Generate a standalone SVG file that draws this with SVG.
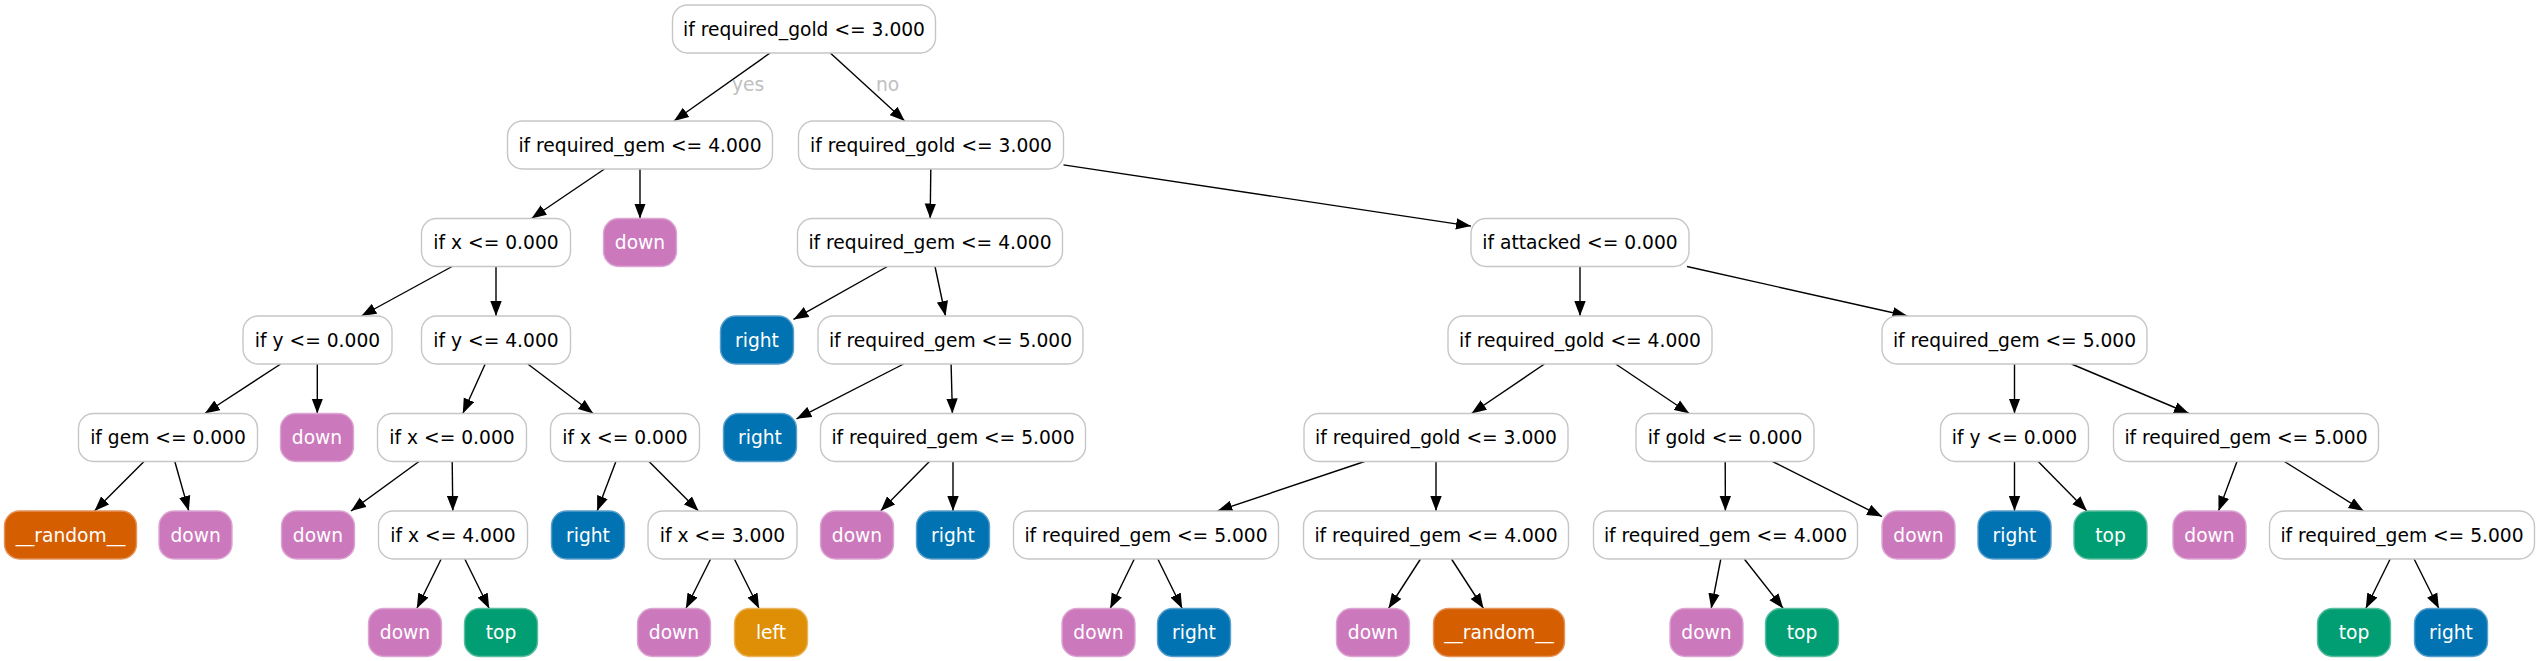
<svg xmlns="http://www.w3.org/2000/svg" width="2541" height="661" viewBox="0 0 2541 661">
<style>
.n rect{fill:#ffffff;stroke:#c6c6c6;stroke-width:1.4}
.n text{fill:#000000}
text{font-family:"DejaVu Sans","Liberation Sans",sans-serif;font-size:18.67px;text-anchor:middle}
.l text{fill:#ffffff}
.down rect{fill:#cc78bc;stroke:#dca6d2;stroke-width:1.4}
.right rect{fill:#0173b2;stroke:#5a9fcb;stroke-width:1.4}
.top rect{fill:#029e73;stroke:#5bbd9f;stroke-width:1.4}
.left rect{fill:#de8f05;stroke:#eab45a;stroke-width:1.4}
.rand rect{fill:#d55e00;stroke:#e4935a;stroke-width:1.4}
.e line{stroke:#000000;stroke-width:1.4;marker-end:url(#arr)}
.lab{fill:#c0c0c0}
</style>
<defs>
<marker id="arr" markerUnits="userSpaceOnUse" markerWidth="16" markerHeight="12" refX="15" refY="6" orient="auto">
<path d="M0,0.3 L15,6 L0,11.7 z" fill="#000000"/>
</marker>
</defs>
<rect x="0" y="0" width="2541" height="661" fill="#ffffff"/>
<g id="edges" class="e">
<line x1="770.1" y1="53" x2="673.9" y2="121"/>
<line x1="830.3" y1="53" x2="904.7" y2="121"/>
<line x1="604.5" y1="169" x2="531.5" y2="218.5"/>
<line x1="640" y1="169" x2="640" y2="218.5"/>
<line x1="930.8" y1="169" x2="930.2" y2="218.5"/>
<line x1="1063.5" y1="164.9" x2="1471" y2="226.1"/>
<line x1="452.1" y1="266.5" x2="361.4" y2="316"/>
<line x1="496" y1="266.5" x2="496" y2="316"/>
<line x1="887.4" y1="266.5" x2="793.5" y2="319.4"/>
<line x1="935" y1="266.5" x2="945.5" y2="316"/>
<line x1="1580" y1="266.5" x2="1580" y2="316"/>
<line x1="1687" y1="266.5" x2="1907.5" y2="316"/>
<line x1="280.7" y1="364" x2="204.8" y2="413.5"/>
<line x1="317.3" y1="364" x2="317.3" y2="413.5"/>
<line x1="485.2" y1="364" x2="462.8" y2="413.5"/>
<line x1="527.8" y1="364" x2="593.2" y2="413.5"/>
<line x1="903.6" y1="364" x2="796.5" y2="418.8"/>
<line x1="951.1" y1="364" x2="952.4" y2="413.5"/>
<line x1="1544.5" y1="364" x2="1471.5" y2="413.5"/>
<line x1="1615.7" y1="364" x2="1689.3" y2="413.5"/>
<line x1="2014.5" y1="364" x2="2014.5" y2="413.5"/>
<line x1="2071.5" y1="364" x2="2189" y2="413.5"/>
<line x1="144" y1="461.5" x2="94.5" y2="511"/>
<line x1="174.8" y1="461.5" x2="188.8" y2="511"/>
<line x1="419" y1="461.5" x2="351" y2="511"/>
<line x1="452.2" y1="461.5" x2="452.8" y2="511"/>
<line x1="615.9" y1="461.5" x2="597.1" y2="511"/>
<line x1="649" y1="461.5" x2="698.5" y2="511"/>
<line x1="929.4" y1="461.5" x2="880.6" y2="511"/>
<line x1="953" y1="461.5" x2="953" y2="511"/>
<line x1="1364.6" y1="461.5" x2="1217.4" y2="511"/>
<line x1="1436" y1="461.5" x2="1436" y2="511"/>
<line x1="1725.2" y1="461.5" x2="1725.4" y2="511"/>
<line x1="1772.6" y1="461.5" x2="1882" y2="516.6"/>
<line x1="2014.5" y1="461.5" x2="2014.5" y2="511"/>
<line x1="2038.2" y1="461.5" x2="2086.9" y2="511"/>
<line x1="2237" y1="461.5" x2="2218.5" y2="511"/>
<line x1="2284.4" y1="461.5" x2="2363.6" y2="511"/>
<line x1="441.2" y1="559" x2="416.8" y2="608.5"/>
<line x1="464.8" y1="559" x2="489.2" y2="608.5"/>
<line x1="710.6" y1="559" x2="685.9" y2="608.5"/>
<line x1="734.4" y1="559" x2="759.1" y2="608.5"/>
<line x1="1134.3" y1="559" x2="1110.2" y2="608.5"/>
<line x1="1157.8" y1="559" x2="1182.2" y2="608.5"/>
<line x1="1420.5" y1="559" x2="1388.5" y2="608.5"/>
<line x1="1451.5" y1="559" x2="1483.5" y2="608.5"/>
<line x1="1720.8" y1="559" x2="1711.2" y2="608.5"/>
<line x1="1744.3" y1="559" x2="1783.2" y2="608.5"/>
<line x1="2390.2" y1="559" x2="2365.8" y2="608.5"/>
<line x1="2414.1" y1="559" x2="2438.9" y2="608.5"/>
<text class="lab" x="748" y="91">yes</text>
<text class="lab" x="887.5" y="91">no</text>
</g>
<g id="n0" class="n"><rect x="672.5" y="5" width="263" height="48" rx="15"/><text x="804" y="35.5">if required_gold &lt;= 3.000</text></g>
<g id="n1" class="n"><rect x="507.5" y="121" width="265" height="48" rx="15"/><text x="640" y="151.5">if required_gem &lt;= 4.000</text></g>
<g id="n2" class="n"><rect x="798.5" y="121" width="265" height="48" rx="15"/><text x="931" y="151.5">if required_gold &lt;= 3.000</text></g>
<g id="n3" class="n"><rect x="421.5" y="218.5" width="149" height="48" rx="15"/><text x="496" y="249">if x &lt;= 0.000</text></g>
<g id="n4" class="l down"><rect x="603.5" y="218.5" width="73" height="48" rx="15"/><text x="640" y="249">down</text></g>
<g id="n5" class="n"><rect x="797.5" y="218.5" width="265" height="48" rx="15"/><text x="930" y="249">if required_gem &lt;= 4.000</text></g>
<g id="n6" class="n"><rect x="1471" y="218.5" width="218" height="48" rx="15"/><text x="1580" y="249">if attacked &lt;= 0.000</text></g>
<g id="n7" class="n"><rect x="243" y="316" width="149" height="48" rx="15"/><text x="317.5" y="346.5">if y &lt;= 0.000</text></g>
<g id="n8" class="n"><rect x="421.5" y="316" width="149" height="48" rx="15"/><text x="496" y="346.5">if y &lt;= 4.000</text></g>
<g id="n9" class="l right"><rect x="720.5" y="316" width="73" height="48" rx="15"/><text x="757" y="346.5">right</text></g>
<g id="n10" class="n"><rect x="818" y="316" width="265" height="48" rx="15"/><text x="950.5" y="346.5">if required_gem &lt;= 5.000</text></g>
<g id="n11" class="n"><rect x="1448" y="316" width="264" height="48" rx="15"/><text x="1580" y="346.5">if required_gold &lt;= 4.000</text></g>
<g id="n12" class="n"><rect x="1882" y="316" width="265" height="48" rx="15"/><text x="2014.5" y="346.5">if required_gem &lt;= 5.000</text></g>
<g id="n13" class="n"><rect x="78.5" y="413.5" width="179" height="48" rx="15"/><text x="168" y="444">if gem &lt;= 0.000</text></g>
<g id="n14" class="l down"><rect x="280.5" y="413.5" width="73" height="48" rx="15"/><text x="317" y="444">down</text></g>
<g id="n15" class="n"><rect x="377.5" y="413.5" width="149" height="48" rx="15"/><text x="452" y="444">if x &lt;= 0.000</text></g>
<g id="n16" class="n"><rect x="550.5" y="413.5" width="149" height="48" rx="15"/><text x="625" y="444">if x &lt;= 0.000</text></g>
<g id="n17" class="l right"><rect x="723.5" y="413.5" width="73" height="48" rx="15"/><text x="760" y="444">right</text></g>
<g id="n18" class="n"><rect x="820.5" y="413.5" width="265" height="48" rx="15"/><text x="953" y="444">if required_gem &lt;= 5.000</text></g>
<g id="n19" class="n"><rect x="1304" y="413.5" width="264" height="48" rx="15"/><text x="1436" y="444">if required_gold &lt;= 3.000</text></g>
<g id="n20" class="n"><rect x="1636" y="413.5" width="178" height="48" rx="15"/><text x="1725" y="444">if gold &lt;= 0.000</text></g>
<g id="n21" class="n"><rect x="1940.5" y="413.5" width="148" height="48" rx="15"/><text x="2014.5" y="444">if y &lt;= 0.000</text></g>
<g id="n22" class="n"><rect x="2113.5" y="413.5" width="265" height="48" rx="15"/><text x="2246" y="444">if required_gem &lt;= 5.000</text></g>
<g id="n23" class="l rand"><rect x="4.5" y="511" width="132" height="48" rx="15"/><text x="70.5" y="541.5">__random__</text></g>
<g id="n24" class="l down"><rect x="159" y="511" width="73" height="48" rx="15"/><text x="195.6" y="541.5">down</text></g>
<g id="n25" class="l down"><rect x="281.5" y="511" width="73" height="48" rx="15"/><text x="318" y="541.5">down</text></g>
<g id="n26" class="n"><rect x="378.5" y="511" width="149" height="48" rx="15"/><text x="453" y="541.5">if x &lt;= 4.000</text></g>
<g id="n27" class="l right"><rect x="551.5" y="511" width="73" height="48" rx="15"/><text x="588" y="541.5">right</text></g>
<g id="n28" class="n"><rect x="648" y="511" width="149" height="48" rx="15"/><text x="722.5" y="541.5">if x &lt;= 3.000</text></g>
<g id="n29" class="l down"><rect x="820.5" y="511" width="73" height="48" rx="15"/><text x="857" y="541.5">down</text></g>
<g id="n30" class="l right"><rect x="916.5" y="511" width="73" height="48" rx="15"/><text x="953" y="541.5">right</text></g>
<g id="n31" class="n"><rect x="1013.5" y="511" width="265" height="48" rx="15"/><text x="1146" y="541.5">if required_gem &lt;= 5.000</text></g>
<g id="n32" class="n"><rect x="1303.5" y="511" width="265" height="48" rx="15"/><text x="1436" y="541.5">if required_gem &lt;= 4.000</text></g>
<g id="n33" class="n"><rect x="1593.5" y="511" width="264" height="48" rx="15"/><text x="1725.5" y="541.5">if required_gem &lt;= 4.000</text></g>
<g id="n34" class="l down"><rect x="1882" y="511" width="73" height="48" rx="15"/><text x="1918.5" y="541.5">down</text></g>
<g id="n35" class="l right"><rect x="1978" y="511" width="73" height="48" rx="15"/><text x="2014.5" y="541.5">right</text></g>
<g id="n36" class="l top"><rect x="2074" y="511" width="73" height="48" rx="15"/><text x="2110.6" y="541.5">top</text></g>
<g id="n37" class="l down"><rect x="2173" y="511" width="73" height="48" rx="15"/><text x="2209.5" y="541.5">down</text></g>
<g id="n38" class="n"><rect x="2269.5" y="511" width="265" height="48" rx="15"/><text x="2402" y="541.5">if required_gem &lt;= 5.000</text></g>
<g id="n39" class="l down"><rect x="368.5" y="608.5" width="73" height="48" rx="15"/><text x="405" y="639">down</text></g>
<g id="n40" class="l top"><rect x="464.5" y="608.5" width="73" height="48" rx="15"/><text x="501" y="639">top</text></g>
<g id="n41" class="l down"><rect x="637.5" y="608.5" width="73" height="48" rx="15"/><text x="674" y="639">down</text></g>
<g id="n42" class="l left"><rect x="734.5" y="608.5" width="73" height="48" rx="15"/><text x="771" y="639">left</text></g>
<g id="n43" class="l down"><rect x="1062" y="608.5" width="73" height="48" rx="15"/><text x="1098.5" y="639">down</text></g>
<g id="n44" class="l right"><rect x="1157.5" y="608.5" width="73" height="48" rx="15"/><text x="1194" y="639">right</text></g>
<g id="n45" class="l down"><rect x="1336.5" y="608.5" width="73" height="48" rx="15"/><text x="1373" y="639">down</text></g>
<g id="n46" class="l rand"><rect x="1433.5" y="608.5" width="131" height="48" rx="15"/><text x="1499" y="639">__random__</text></g>
<g id="n47" class="l down"><rect x="1670" y="608.5" width="73" height="48" rx="15"/><text x="1706.5" y="639">down</text></g>
<g id="n48" class="l top"><rect x="1765.5" y="608.5" width="73" height="48" rx="15"/><text x="1802" y="639">top</text></g>
<g id="n49" class="l top"><rect x="2317.5" y="608.5" width="73" height="48" rx="15"/><text x="2354" y="639">top</text></g>
<g id="n50" class="l right"><rect x="2414.5" y="608.5" width="73" height="48" rx="15"/><text x="2451" y="639">right</text></g>
</svg>
